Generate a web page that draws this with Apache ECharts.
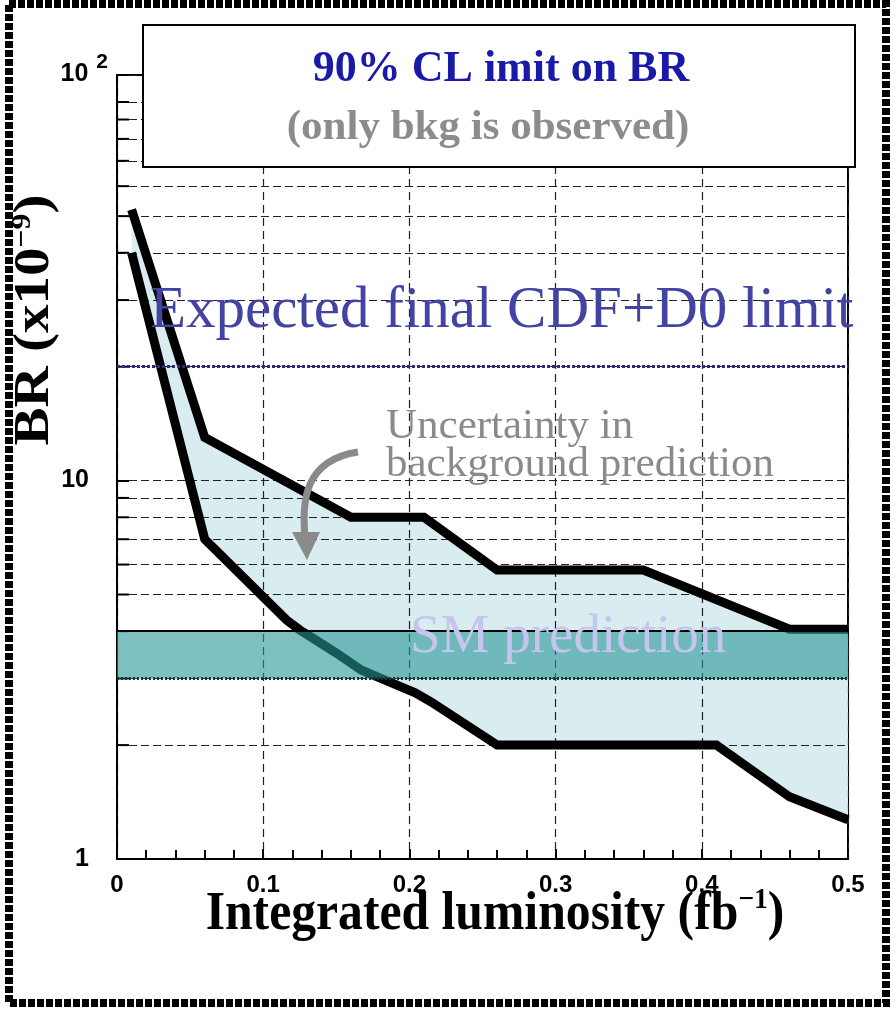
<!DOCTYPE html>
<html>
<head>
<meta charset="utf-8">
<script src="https://cdn.jsdelivr.net/npm/echarts@6/dist/echarts.min.js"></script>
<style>
html, body { margin: 0; padding: 0; background: #fff; }
#main { width: 895px; height: 1009px; }
</style>
</head>
<body>
<div id="main"></div>
<script>
// upper edge of the expected limit band (BR in units of 1e-9)
var upperX = [0.01, 0.06, 0.16, 0.21, 0.26, 0.36, 0.46, 0.5];
var upperBR = [52, 13, 8, 8, 5.8, 5.8, 4.05, 4.05];
// lower edge
var lowerX = [0.01, 0.06, 0.116, 0.125, 0.135, 0.15, 0.167, 0.185, 0.204, 0.215, 0.26, 0.41, 0.46, 0.5];
var lowerBR = [40, 7, 4.28, 4.03, 3.81, 3.5, 3.16, 2.95, 2.75, 2.6, 2.0, 2.0, 1.46, 1.27];
var expectedLimit = 20;
var smBand = [3.0, 4.0];
var yMinorGrid = [2, 3, 4, 5, 6, 7, 8, 9, 20, 30, 40, 50, 60, 70, 80, 90];
var yLabels = [1, 10, 100];

function pairs(xs, ys) {
    var out = [];
    for (var i = 0; i < xs.length; i++) {
        out.push([xs[i], ys[i]]);
    }
    return out;
}
var upperData = pairs(upperX, upperBR);
var lowerData = pairs(lowerX, lowerBR);

var myChart = echarts.init(document.getElementById('main'));
var serif = 'Liberation Serif, Times New Roman, serif';
var sans = 'Liberation Sans, Arial, sans-serif';

var option = {
    animation: false,
    backgroundColor: '#fff',
    grid: {
        left: 117, right: 47, top: 75, bottom: 150,
        show: true, borderColor: '#000', borderWidth: 2, backgroundColor: '#fff'
    },
    xAxis: {
        type: 'value', min: 0, max: 0.5, interval: 0.1, z: 3,
        axisLine: { lineStyle: { color: '#000', width: 2 } },
        axisTick: { inside: true, length: 10, lineStyle: { color: '#000', width: 2 } },
        minorTick: { show: true, splitNumber: 5, length: 9, lineStyle: { color: '#000', width: 2 } },
        splitLine: { show: true, lineStyle: { color: '#222', width: 1.2, type: [8, 5] } },
        axisLabel: {
            margin: 14, fontSize: 24, fontWeight: 'bold', color: '#000', fontFamily: sans,
            formatter: function (v) { return v === 0 ? '0' : v.toFixed(1); }
        }
    },
    yAxis: {
        type: 'log', logBase: 10, min: 1, max: 118, z: 3,
        axisLine: { show: true, lineStyle: { color: '#000', width: 2 } },
        axisTick: { show: true, inside: true, length: 12, lineStyle: { color: '#000', width: 2 } },
        splitLine: { show: true, lineStyle: { color: '#222', width: 1.2, type: [8, 4] } },
        axisLabel: {
            margin: 9,
            formatter: function (v) {
                var r = Math.round(v);
                if (Math.abs(v - r) > 1e-6 || yLabels.indexOf(r) < 0) return '';
                if (r === 100) return '{a|10}{b|2}';
                return '{n|' + r + '}';
            },
            rich: {
                n: { fontSize: 25, fontWeight: 'bold', fontFamily: sans, color: '#000', padding: [0, 19, 0, 0] },
                a: { fontSize: 25, fontWeight: 'bold', fontFamily: sans, color: '#000', lineHeight: 26, padding: [0, 0, 56, 0] },
                b: { fontSize: 21, fontWeight: 'bold', fontFamily: sans, color: '#000', lineHeight: 20, padding: [0, 0, 80, 8] }
            }
        }
    },
    series: [
        {
            // light blue uncertainty region between the two limit curves
            name: 'band', type: 'custom', z: 1, silent: true,
            data: [[0.25, 10]],
            renderItem: function (params, api) {
                var pts = [];
                for (var i = 0; i < upperData.length; i++) pts.push(api.coord(upperData[i]));
                for (var j = lowerData.length - 1; j >= 0; j--) pts.push(api.coord(lowerData[j]));
                return { type: 'polygon', shape: { points: pts }, style: { fill: '#d9edf0' } };
            }
        },
        {
            // minor log grid lines
            name: 'minorGrid', type: 'line', z: 3, silent: true,
            data: [[0.25, 10]], showSymbol: false, lineStyle: { width: 0 },
            markLine: {
                silent: true, symbol: 'none', label: { show: false }, z: 3,
                lineStyle: { color: '#222', width: 1.2, type: [8, 4] },
                data: yMinorGrid.map(function (v) { return { yAxis: v }; })
            }
        },
        {
            // minor tick marks on the left axis
            name: 'minorTicks', type: 'custom', z: 4, silent: true,
            data: yMinorGrid.map(function (v) { return [0, v]; }),
            renderItem: function (params, api) {
                var p = api.coord([api.value(0), api.value(1)]);
                return { type: 'line', shape: { x1: p[0], y1: p[1], x2: p[0] + 12, y2: p[1] }, style: { stroke: '#000', lineWidth: 2 } };
            }
        },
        {
            name: 'upper', type: 'line', z: 5, data: upperData, showSymbol: false,
            lineStyle: { color: '#000', width: 9, join: 'miter', cap: 'butt' }
        },
        {
            name: 'lower', type: 'line', z: 5, data: lowerData, showSymbol: false,
            lineStyle: { color: '#000', width: 9, join: 'miter', cap: 'butt' }
        },
        {
            // SM prediction band
            name: 'SM', type: 'line', z: 6, data: [[0.25, 3.5]], showSymbol: false, lineStyle: { width: 0 },
            markArea: {
                silent: true, z: 6,
                itemStyle: { color: 'rgba(40,150,150,0.6)' },
                data: [[{ yAxis: smBand[0] }, { yAxis: smBand[1] }]]
            },
            markLine: {
                silent: true, symbol: 'none', label: { show: false }, z: 7,
                data: [
                    { yAxis: smBand[1], lineStyle: { color: '#000', width: 2, type: 'solid' } },
                    { yAxis: smBand[0], lineStyle: { color: '#1a3535', width: 3, type: [2, 2] } }
                ]
            }
        },
        {
            name: 'expected', type: 'line', z: 6, data: [[0.25, expectedLimit]], showSymbol: false, lineStyle: { width: 0 },
            markLine: {
                silent: true, symbol: 'none', label: { show: false }, z: 7,
                lineStyle: { color: '#2b2b80', width: 3, type: [3, 2] },
                data: [{ yAxis: expectedLimit }]
            }
        }
    ],
    graphic: [
        {
            type: 'rect', z: 50,
            shape: { x: 143, y: 25, width: 712, height: 142 },
            style: { fill: '#fff', stroke: '#000', lineWidth: 2 }
        },
        {
            type: 'text', z: 51, x: 501, y: 70,
            style: { text: '90% CL imit on BR', fill: '#1a1aa8', font: 'bold 44px ' + serif, align: 'center', verticalAlign: 'middle' }
        },
        {
            type: 'text', z: 51, x: 488, y: 128,
            style: { text: '(only bkg is observed)', fill: '#8c8c8c', font: 'bold 43px ' + serif, align: 'center', verticalAlign: 'middle' }
        },
        {
            type: 'text', z: 51, x: 150, y: 311,
            style: { text: 'Expected final CDF+D0 limit', fill: '#4343a3', font: '59px ' + serif, align: 'left', verticalAlign: 'middle' }
        },
        {
            type: 'text', z: 51, x: 386, y: 427,
            style: { text: 'Uncertainty in', fill: '#8a8a8a', font: '43px ' + serif, align: 'left', verticalAlign: 'middle' }
        },
        {
            type: 'text', z: 51, x: 386, y: 465,
            style: { text: 'background prediction', fill: '#8a8a8a', font: '43px ' + serif, align: 'left', verticalAlign: 'middle' }
        },
        {
            type: 'text', z: 51, x: 410, y: 638,
            style: { text: 'SM prediction', fill: '#c5c5ee', font: '55px ' + serif, align: 'left', verticalAlign: 'middle' }
        },
        {
            type: 'bezierCurve', z: 51,
            shape: { x1: 358, y1: 452, cpx1: 305, cpy1: 460, cpx2: 300, cpy2: 500, x2: 306, y2: 545 },
            style: { stroke: '#8a8a8a', lineWidth: 7, fill: 'none' }
        },
        {
            type: 'polygon', z: 51,
            shape: { points: [[307, 560], [292, 532], [320, 532]] },
            style: { fill: '#8a8a8a' }
        },
        {
            type: 'text', z: 51, x: 35, y: 320, rotation: Math.PI / 2, scaleX: 1.14,
            style: {
                text: '{m|BR (x10}{s|\u22129}{m|)}', align: 'center', verticalAlign: 'middle',
                rich: {
                    m: { font: 'bold 50px ' + serif, fill: '#000', lineHeight: 54 },
                    s: { font: 'bold 28px ' + serif, fill: '#000', lineHeight: 28, padding: [0, 0, 24, 0] }
                }
            }
        },
        {
            type: 'text', z: 51, x: 495, y: 915, scaleX: 0.92,
            style: {
                text: '{m|Integrated luminosity (fb}{s|\u22121}{m|)}', align: 'center', verticalAlign: 'middle',
                rich: {
                    m: { font: 'bold 54px ' + serif, fill: '#000', lineHeight: 58 },
                    s: { font: 'bold 30px ' + serif, fill: '#000', lineHeight: 30, padding: [0, 0, 30, 0] }
                }
            }
        },
        {
            type: 'rect', z: 100,
            shape: { x: 9, y: 4, width: 877, height: 999 },
            style: { fill: 'none', stroke: '#000', lineWidth: 8, lineDash: [7, 2] }
        }
    ]
};

if (option && typeof option === "object") {
    myChart.setOption(option, true);
}
</script>
</body>
</html>
